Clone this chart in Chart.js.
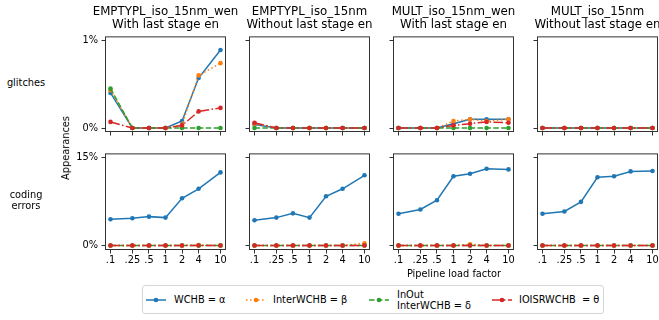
<!DOCTYPE html>
<html>
<head>
<meta charset="utf-8">
<script src="https://cdn.jsdelivr.net/npm/chart.js@4.4.1/dist/chart.umd.min.js"></script>
<style>
  body { margin: 0; width: 659px; height: 320px; overflow: hidden; background: #fff; position: relative;
         font-family: "DejaVu Sans", sans-serif; color: #000; }
  .txt { position: absolute; white-space: nowrap; }
  .title { font-size: 11.8px; line-height: 13px; text-align: center; width: 200px; }
  .lbl { font-size: 9.8px; line-height: 11.8px; }
  #legend { position: absolute; left: 142px; top: 285px; width: 460px; height: 27px;
            border: 1px solid #d6d6d6; border-radius: 3px; }
  .item { position: absolute; font-size: 9.8px; line-height: 11px; white-space: nowrap; }
  .item svg { position: absolute; }
</style>
</head>
<body>
<div id="legend"></div>
<script>
const loadFactors = [0.1, 0.25, 0.5, 1, 2, 4, 10];
const loadLabels = ['.1', '.25', '.5', '1', '2', '4', '10'];
const panelTitles = [
  ['EMPTYPL_iso_15nm_wen', 'With last stage en'],
  ['EMPTYPL_iso_15nm', 'Without last stage en'],
  ['MULT_iso_15nm_wen', 'With last stage en'],
  ['MULT_iso_15nm', 'Without last stage en'],
];
const rowNames = ['glitches', 'coding<br>errors'];
const seriesNames = ['WCHB = α', 'InterWCHB = β', 'InOut<br>InterWCHB = δ', 'IOISRWCHB&nbsp;&nbsp;= θ'];
const rowTicks = [[0, 1], [0, 15]];

// glitch appearances in %, one row per panel
const glitchWCHB = [
  [0.40, 0, 0, 0, 0.08, 0.57, 0.89],
  [0.04, 0, 0, 0, 0, 0, 0],
  [0, 0, 0, 0.05, 0.10, 0.10, 0.10],
  [0, 0, 0, 0, 0, 0, 0],
];
const glitchInter = [
  [0.43, 0, 0, 0, 0.04, 0.60, 0.74],
  [0.05, 0, 0, 0, 0, 0, 0],
  [0, 0, 0, 0.08, 0.10, 0.08, 0.10],
  [0, 0, 0, 0, 0, 0, 0],
];
const glitchInOut = [
  [0.45, 0, 0, 0, 0, 0, 0],
  [0, 0, 0, 0, 0, 0, 0],
  [0, 0, 0, 0, 0, 0, 0],
  [0, 0, 0, 0, 0, 0, 0],
];
const glitchIOISR = [
  [0.07, 0, 0, 0, 0.03, 0.19, 0.23],
  [0.06, 0, 0, 0, 0, 0, 0],
  [0, 0, 0, 0.03, 0.05, 0.07, 0.06],
  [0, 0, 0, 0, 0, 0, 0],
];

// coding error appearances in %
const errorWCHB = [
  [4.48, 4.65, 4.94, 4.77, 8.09, 9.71, 12.52],
  [4.31, 4.77, 5.50, 4.77, 8.43, 9.71, 12.02],
  [5.44, 6.17, 7.75, 11.85, 12.30, 13.15, 13.03],
  [5.44, 5.83, 7.47, 11.68, 11.85, 12.69, 12.75],
];
const errorInter = [
  [0, 0, 0, 0, 0, 0.05, 0],
  [0, 0, 0, 0, 0, 0, 0.35],
  [0, 0, 0, 0, 0.2, 0, 0],
  [0, 0, 0, 0, 0, 0, 0],
];
const errorInOut = [
  [0, 0, 0, 0, 0, 0, 0],
  [0, 0, 0, 0, 0, 0, 0],
  [0, 0, 0, 0, 0, 0, 0],
  [0, 0, 0, 0, 0, 0, 0],
];
const errorIOISR = [
  [0, 0, 0, 0, 0, 0, 0],
  [0, 0, 0, 0, 0, 0, 0],
  [0, 0, 0, 0, 0, 0, 0],
  [0, 0, 0, 0, 0, 0, 0],
];

const glitchSeries = [glitchWCHB, glitchInter, glitchInOut, glitchIOISR];
const errorSeries = [errorWCHB, errorInter, errorInOut, errorIOISR];

// styles + layout
const colors = ['#1f77b4', '#ff7f0e', '#2ca02c', '#d62728'];
const dashes = [[], [1.5, 2.5], [5.5, 2.4], [9.6, 2.4, 1.5, 2.4]];
const panelLeft = [105, 249, 393, 537];
const PANEL_W = 121;
const rowTop = [35, 152];
const rowH = [97, 98];
const rowLim = [[-0.045, 1.045], [-0.78, 15.78]];
const PAD_L = 40, PAD_R = 14, PAD_T = 8, PAD_B = 24;
const axisColor = '#333';

Chart.defaults.font.family = '"DejaVu Sans", sans-serif';
Chart.defaults.font.size = 9.8;
Chart.defaults.color = '#000';

const frame = {
  id: 'frame',
  afterDatasetsDraw(chart) {
    const { ctx, chartArea: a } = chart;
    ctx.save();
    ctx.strokeStyle = axisColor;
    ctx.lineWidth = 1;
    ctx.strokeRect(a.left + 0.5, a.top + 0.5, a.right - a.left - 1, a.bottom - a.top - 1);
    ctx.restore();
  }
};

function addText(cls, html, left, top, extra) {
  const d = document.createElement('div');
  d.className = 'txt ' + cls;
  d.innerHTML = html;
  d.style.left = left + 'px';
  d.style.top = top + 'px';
  if (extra) d.style.cssText += extra;
  document.body.appendChild(d);
  return d;
}

function makePanel(r, c) {
  const cv = document.createElement('canvas');
  const W = PANEL_W + PAD_L + PAD_R, H = rowH[r] + PAD_T + PAD_B;
  cv.width = W; cv.height = H;
  cv.style.cssText = `position:absolute;left:${panelLeft[c] - PAD_L}px;top:${rowTop[r] - PAD_T}px;width:${W}px;height:${H}px`;
  document.body.appendChild(cv);

  const src = r === 0 ? glitchSeries : errorSeries;
  const datasets = src.map((s, k) => ({
    label: seriesNames[k],
    data: loadFactors.map((x, i) => ({ x: x, y: s[c][i] })),
    borderColor: colors[k],
    backgroundColor: colors[k],
    borderWidth: 1.5,
    borderDash: dashes[k],
    pointRadius: 2.3,
    pointHoverRadius: 2.3,
    pointBorderWidth: 0,
    tension: 0,
    order: 3 - k,
    clip: false,
  }));

  new Chart(cv, {
    type: 'line',
    data: { datasets: datasets },
    plugins: [frame],
    options: {
      responsive: false,
      animation: false,
      devicePixelRatio: 1,
      layout: { padding: { left: 0, right: PAD_R, top: PAD_T, bottom: 0 } },
      plugins: { legend: { display: false }, tooltip: { enabled: false } },
      scales: {
        x: {
          type: 'logarithmic',
          min: Math.pow(10, -1.1),
          max: Math.pow(10, 1.1),
          afterBuildTicks: (s) => { s.ticks = loadFactors.map(v => ({ value: v })); },
          afterFit: (s) => { s.height = PAD_B; },
          ticks: {
            autoSkip: false, maxRotation: 0, minRotation: 0, padding: 1,
            callback: (v, i) => r === 1 ? loadLabels[i] : '',
          },
          grid: { drawOnChartArea: false, drawTicks: true, tickLength: 3.5, tickColor: axisColor, tickWidth: 1 },
          border: { display: false },
        },
        y: {
          min: rowLim[r][0],
          max: rowLim[r][1],
          afterBuildTicks: (s) => { s.ticks = rowTicks[r].map(v => ({ value: v })); },
          afterFit: (s) => { s.width = PAD_L; },
          ticks: {
            padding: 3.5,
            callback: (v) => c === 0 ? v + '%' : '',
          },
          grid: { drawOnChartArea: false, drawTicks: true, tickLength: 3.5, tickColor: axisColor, tickWidth: 1 },
          border: { display: false },
        },
      },
    },
  });
}

for (let r = 0; r < 2; r++)
  for (let c = 0; c < 4; c++) makePanel(r, c);

// titles
panelTitles.forEach((t, c) => {
  addText('title', t[0] + '<br>' + t[1], panelLeft[c] + PANEL_W / 2 - 100, 4.7);
});

// row labels
addText('lbl', rowNames[0], 0, 76.6, 'width:52px;text-align:center;');
addText('lbl', rowNames[1], 0, 188.7, 'width:52px;text-align:center;');

// axis labels
addText('lbl', 'Pipeline load factor', 354, 268, 'width:200px;text-align:center;');
addText('lbl', 'Appearances', 66, 148, 'transform:translate(-50%,-50%) rotate(-90deg);');

// legend
const legend = document.getElementById('legend');
const itemX = [2, 102, 225, 348];
const textX = [31, 130, 254, 376];
seriesNames.forEach((name, k) => {
  const sw = document.createElementNS('http://www.w3.org/2000/svg', 'svg');
  sw.setAttribute('width', 22); sw.setAttribute('height', 8);
  sw.style.cssText = `position:absolute;left:${itemX[k]}px;top:10px;`;
  sw.innerHTML = `<line x1="1" y1="4" x2="21" y2="4" stroke="${colors[k]}" stroke-width="1.5" stroke-dasharray="${dashes[k].join(' ') || 'none'}"/>` +
    `<circle cx="11" cy="4" r="2.3" fill="${colors[k]}"/>`;
  legend.appendChild(sw);
  const d = document.createElement('div');
  d.className = 'item';
  d.innerHTML = name;
  const twoLine = name.indexOf('<br>') >= 0;
  d.style.left = textX[k] + 'px';
  d.style.top = (twoLine ? 2.5 : 8) + 'px';
  legend.appendChild(d);
});
</script>
</body>
</html>
